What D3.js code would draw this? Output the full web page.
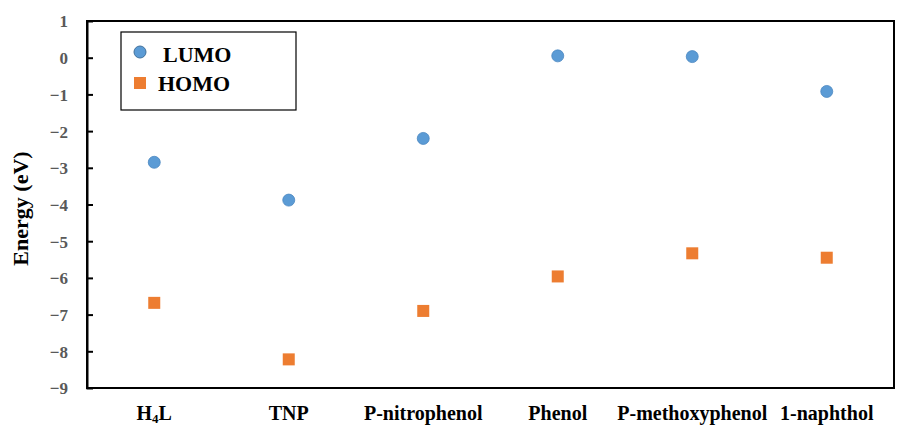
<!DOCTYPE html>
<html>
<head>
<meta charset="utf-8">
<script src="https://cdn.jsdelivr.net/npm/d3@7"></script>
<style>
  body { margin: 0; background: #fff; }
</style>
</head>
<body>
<svg id="chart" width="898" height="427"></svg>
<script>
// data
const categories = ["H4L", "TNP", "P-nitrophenol", "Phenol", "P-methoxyphenol", "1-naphthol"];
const lumo = [-2.85, -3.88, -2.2, 0.05, 0.03, -0.92];
const homo = [-6.68, -8.22, -6.9, -5.96, -5.33, -5.45];
const yTicks = [1, 0, -1, -2, -3, -4, -5, -6, -7, -8, -9];

const FONT = "'Liberation Serif', 'Times New Roman', 'DejaVu Serif', serif";

const svg = d3.select("#chart");
const margin = { left: 87, right: 4, top: 21, bottom: 39 };
const width = 898 - margin.left - margin.right;
const height = 427 - margin.top - margin.bottom;

const g = svg.append("g").attr("transform", `translate(${margin.left},${margin.top})`);

const x = d3.scaleBand().domain(categories).range([0, width]);
const y = d3.scaleLinear().domain([-9, 1]).range([height, 0]);

// plot frame
g.append("rect")
  .attr("width", width).attr("height", height)
  .attr("fill", "none").attr("stroke", "#000").attr("stroke-width", 2);

// y axis, ticks point inward
const yAxis = g.append("g")
  .call(d3.axisLeft(y).tickValues(yTicks).tickSize(-6).tickPadding(19).tickFormat(d3.format("d")));
yAxis.select(".domain").attr("stroke-width", 2);
yAxis.selectAll(".tick line").attr("stroke-width", 2);
yAxis.selectAll(".tick").filter(d => d === 1 || d === -9).select("line").remove();
yAxis.selectAll("text")
  .style("font-family", FONT).style("font-weight", "bold").style("font-size", "17px")
  .attr("fill", "#595959")
  .attr("text-anchor", "end").attr("x", -19).attr("dy", "0.35em");

// x labels
const xl = g.append("g").attr("transform", `translate(0,${height})`);
categories.forEach(c => {
  const t = xl.append("text")
    .attr("x", x(c) + x.bandwidth() / 2).attr("y", 32)
    .attr("text-anchor", "middle").attr("fill", "#000")
    .style("font-family", FONT).style("font-weight", "bold").style("font-size", "20px");
  if (c === "H4L") {
    t.append("tspan").text("H");
    t.append("tspan").text("4").style("font-size", "13px").attr("dy", 3);
    t.append("tspan").text("L").attr("dy", -3);
  } else {
    t.text(c);
  }
});

// y label
svg.append("text")
  .attr("transform", `translate(28,${margin.top + height / 2 + 4}) rotate(-90)`)
  .attr("text-anchor", "middle").attr("fill", "#000")
  .style("font-family", FONT).style("font-weight", "bold").style("font-size", "22px")
  .text("Energy (eV)");

// HOMO squares
const sq = 12;
g.selectAll(".homo").data(homo).join("rect")
  .attr("class", "homo")
  .attr("x", (d, i) => x(categories[i]) + x.bandwidth() / 2 - sq / 2)
  .attr("y", d => y(d) - sq / 2)
  .attr("width", sq).attr("height", sq)
  .attr("fill", "#ED7D31");

// LUMO circles
g.selectAll(".lumo").data(lumo).join("circle")
  .attr("class", "lumo")
  .attr("cx", (d, i) => x(categories[i]) + x.bandwidth() / 2)
  .attr("cy", d => y(d))
  .attr("r", 6)
  .attr("fill", "#5B9BD5").attr("stroke", "#4A86C0").attr("stroke-width", 0.8);

// legend
const lg = svg.append("g").attr("transform", "translate(121,32)");
lg.append("rect").attr("width", 175).attr("height", 78)
  .attr("fill", "#fff").attr("stroke", "#000").attr("stroke-width", 1.2);
lg.append("circle").attr("cx", 19).attr("cy", 20).attr("r", 6)
  .attr("fill", "#5B9BD5").attr("stroke", "#41719C").attr("stroke-width", 1);
lg.append("text").attr("x", 42).attr("y", 30)
  .style("font-family", FONT).style("font-weight", "bold").style("font-size", "22px").text("LUMO");
lg.append("rect").attr("x", 13).attr("y", 45).attr("width", 12).attr("height", 12)
  .attr("fill", "#ED7D31");
lg.append("text").attr("x", 37).attr("y", 59)
  .style("font-family", FONT).style("font-weight", "bold").style("font-size", "22px").text("HOMO");
</script>
</body>
</html>
